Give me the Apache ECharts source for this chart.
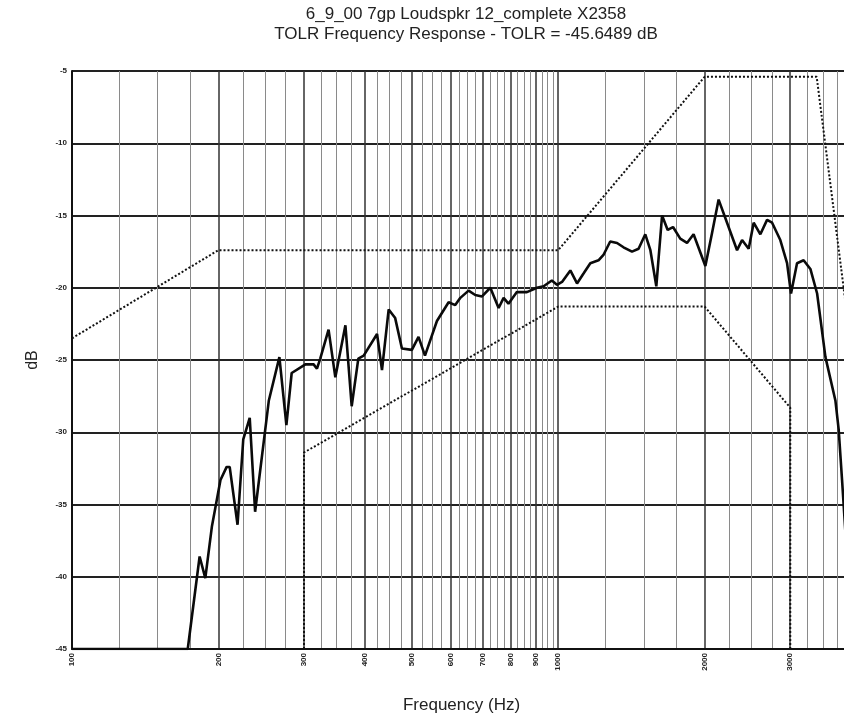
<!DOCTYPE html>
<html lang="en">
<head>
    <meta charset="UTF-8" />
    <title>TOLR Frequency Response</title>
    <style>
      html, body { margin: 0; padding: 0; background: #fff; }
    </style>
</head>
<body>
<div id="main" style="width: 844px; height: 721px"></div>
<script src="https://cdn.jsdelivr.net/npm/echarts@6/dist/echarts.min.js"></script>
<script>
  // measured response (Hz, dB)
  var respFreq = [100, 173, 183, 188, 194, 202, 208, 211, 219, 225, 232, 238, 254, 267, 276, 283,
    302, 314, 319, 324, 337, 348, 365, 376, 388, 398, 424, 434, 448, 462, 477, 500, 516, 532,
    563, 595, 614, 629, 654, 675, 697, 725, 754, 772, 790, 822, 862, 904, 933, 970, 994, 1018,
    1059, 1093, 1128, 1164, 1210, 1240, 1279, 1321, 1362, 1418, 1463, 1510, 1547, 1591, 1635,
    1679, 1722, 1782, 1840, 1898, 2007, 2072, 2137, 2224, 2332, 2388, 2464, 2523, 2604, 2688,
    2753, 2862, 2955, 3011, 3098, 3196, 3300, 3407, 3544, 3715, 3773, 3834, 3900];
  var respDb = [-45, -45, -38.6, -40.1, -36.5, -33.3, -32.4, -32.4, -36.4, -30.5, -29.0, -35.5,
    -27.8, -24.8, -29.5, -25.9, -25.3, -25.3, -25.6, -24.9, -22.9, -26.2, -22.6, -28.2, -24.9,
    -24.7, -23.2, -25.7, -21.5, -22.1, -24.2, -24.3, -23.4, -24.7, -22.3, -21.0, -21.2, -20.7,
    -20.2, -20.5, -20.6, -20.0, -21.4, -20.7, -21.1, -20.3, -20.3, -20.0, -19.9, -19.5, -19.8,
    -19.6, -18.8, -19.7, -19.0, -18.3, -18.1, -17.7, -16.8, -16.9, -17.2, -17.5, -17.3, -16.3,
    -17.4, -19.9, -15.0, -16.0, -15.8, -16.6, -16.9, -16.3, -18.5, -16.2, -13.9, -15.5, -17.4,
    -16.7, -17.3, -15.5, -16.3, -15.3, -15.5, -16.7, -18.3, -20.4, -18.3, -18.1, -18.7, -20.4,
    -24.8, -27.8, -29.8, -33.3, -37.2];

  // mask limits
  var upperFreq = [100, 200, 1000, 2000, 3400, 4000];
  var upperDb = [-23.5, -17.4, -17.4, -5.4, -5.4, -24];
  var lowerFreq = [300, 300, 1000, 2000, 3000, 3000];
  var lowerDb = [-45, -31.4, -21.3, -21.3, -28.3, -45];

  // axis ticks
  var majorTicks = [100, 200, 300, 400, 500, 600, 700, 800, 900, 1000, 2000, 3000, 4000];
  var minorTicks = [125, 150, 175, 225, 250, 275, 325, 350, 375, 425, 450, 475, 525, 550, 575,
    625, 650, 675, 725, 750, 775, 825, 850, 875, 925, 950, 975,
    1250, 1500, 1750, 2250, 2500, 2750, 3250, 3500, 3750];

  function pairs(xs, ys) {
    return xs.map(function (x, i) { return [x, ys[i]]; });
  }

  var myChart = echarts.init(document.getElementById("main"));
  var font = "'Liberation Sans', Arial, sans-serif";

  var option = {
    animation: false,
    backgroundColor: "#fff",
    graphic: [
      {
        type: "text", x: 466, y: 4,
        style: {
          text: "6_9_00 7gp Loudspkr 12_complete X2358\nTOLR Frequency Response - TOLR = -45.6489 dB",
          font: "17px " + font, fill: "#222", align: "center", lineHeight: 20
        }
      }
    ],
    grid: { left: 72, top: 71, width: 779, height: 578, containLabel: false, outerBoundsMode: "none" },
    xAxis: [
      {
        type: "log", logBase: 10, min: 100, max: 4000,
        name: "Frequency (Hz)", nameLocation: "middle", nameGap: 48,
        nameTextStyle: { fontFamily: font, fontSize: 17, color: "#222" },
        axisLine: { show: true, lineStyle: { color: "#111", width: 2 } },
        axisTick: { show: false, customValues: majorTicks },
        axisLabel: {
          customValues: majorTicks, rotate: 90, fontSize: 8, fontWeight: "bold",
          fontFamily: font, color: "#222", margin: 4, hideOverlap: false,
          formatter: function (v) { return String(Math.round(v)); }
        },
        splitLine: { show: true, lineStyle: { color: "#333", width: 1.5 } }
      },
      {
        type: "log", logBase: 10, min: 100, max: 4000, position: "bottom",
        axisLine: { show: false },
        axisTick: { show: false, customValues: minorTicks },
        axisLabel: { show: false, customValues: minorTicks },
        splitLine: { show: true, lineStyle: { color: "#8a8a8a", width: 1 } }
      }
    ],
    yAxis: {
      type: "value", min: -45, max: -5, interval: 5,
      name: "dB", nameLocation: "middle", nameGap: 31,
      nameTextStyle: { fontFamily: font, fontSize: 16, color: "#222" },
      axisLine: { show: true, lineStyle: { color: "#111", width: 2 } },
      axisTick: { show: false },
      axisLabel: { fontSize: 8, fontWeight: "bold", fontFamily: font, color: "#222", margin: 5 },
      splitLine: { show: true, lineStyle: { color: "#222", width: 1.8 } }
    },
    series: [
      {
        name: "upper", type: "line", xAxisIndex: 0, data: pairs(upperFreq, upperDb),
        symbol: "none", lineStyle: { color: "#111", width: 2, type: [2, 2] }, z: 3
      },
      {
        name: "lower", type: "line", xAxisIndex: 0, data: pairs(lowerFreq, lowerDb),
        symbol: "none", lineStyle: { color: "#111", width: 2, type: [2, 2] }, z: 3
      },
      {
        name: "response", type: "line", xAxisIndex: 0, data: pairs(respFreq, respDb),
        symbol: "none", lineStyle: { color: "#0a0a0a", width: 2.6 }, z: 4
      }
    ]
  };
  myChart.setOption(option);
</script>
</body>
</html>
